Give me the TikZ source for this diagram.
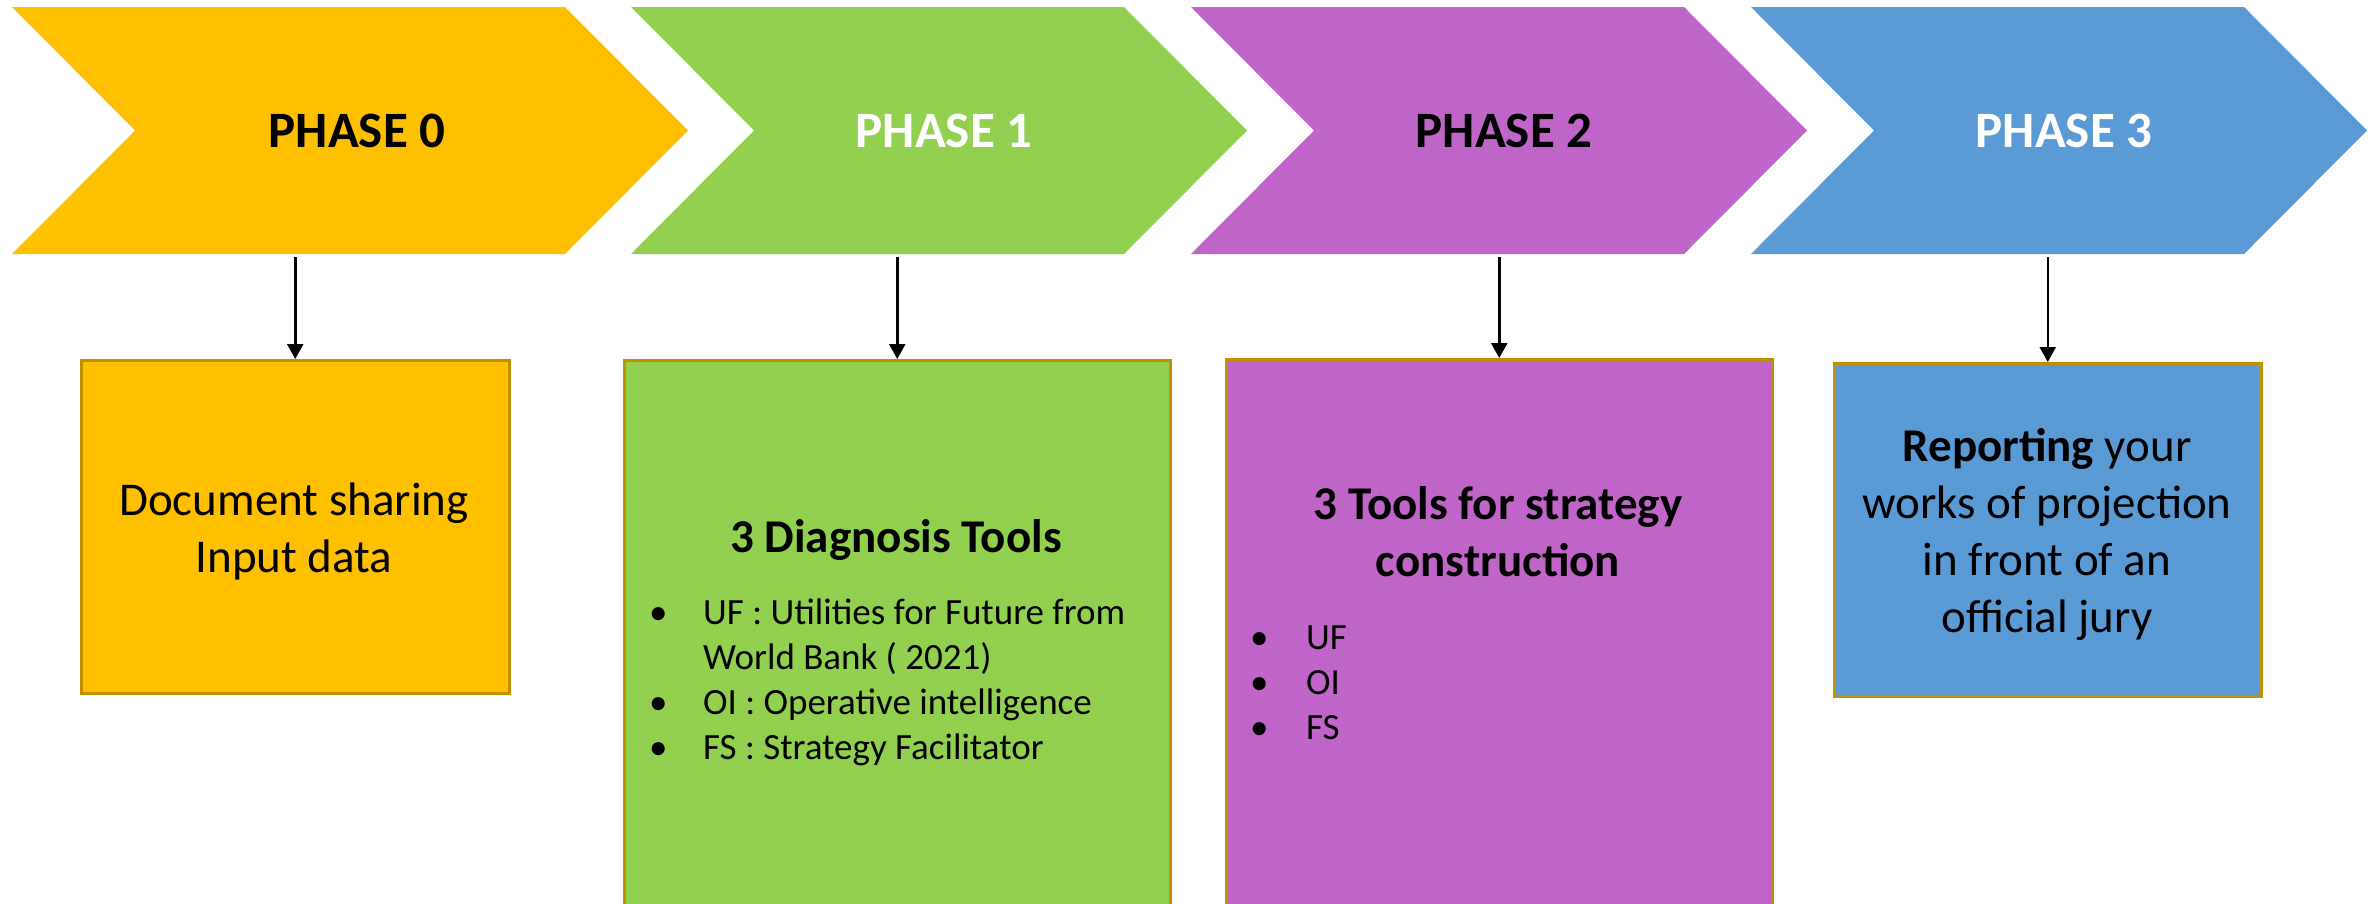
\documentclass[tikz,border=0pt]{standalone}
\usepackage{fontspec}
\setmainfont{Carlito}
\usetikzlibrary{arrows.meta}
\definecolor{phaseorange}{HTML}{FFC000}
\definecolor{phasegreen}{HTML}{92D050}
\definecolor{phasepurple}{HTML}{C066C9}
\definecolor{phaseblue}{HTML}{5B9BD5}
\definecolor{boxedge}{HTML}{BF9000}
\begin{document}
\begin{tikzpicture}[x=1pt,y=-1pt,
  phase/.style={font=\fontsize{51}{61}\selectfont\bfseries,inner sep=0pt},
  box/.style={draw=boxedge,line width=2.5pt,anchor=north west,inner sep=0pt},
  txt/.style={font=\fontsize{47}{57}\selectfont,inner sep=0pt,anchor=base},
  head/.style={font=\fontsize{47}{57}\selectfont\bfseries,inner sep=0pt,anchor=base},
  items/.style={font=\fontsize{37}{45}\selectfont,inner sep=0pt,anchor=base west},
  arr/.style={line width=2.5pt,-{Triangle[length=15pt,width=16pt]}}]
\def \yt{7};
\def \ym{130.5};
\def \yb{254};
\def \ya{257};
\useasboundingbox (0,0) rectangle (2377,903);
\fill[phaseorange] (12,\yt) -- (565,\yt) -- (688,\ym) -- (565,\yb) -- (12,\yb) -- (135,\ym) -- cycle;
\fill[phasegreen] (631,\yt) -- (1124,\yt) -- (1247,\ym) -- (1124,\yb) -- (631,\yb) -- (754,\ym) -- cycle;
\fill[phasepurple] (1191,\yt) -- (1684,\yt) -- (1807,\ym) -- (1684,\yb) -- (1191,\yb) -- (1314,\ym) -- cycle;
\fill[phaseblue] (1751,\yt) -- (2244,\yt) -- (2367,\ym) -- (2244,\yb) -- (1751,\yb) -- (1874,\ym) -- cycle;
\node[phase] (p0) at (357,\ym) {PHASE 0};
\node[phase,white] (p1) at (944,\ym) {PHASE 1};
\node[phase] (p2) at (1504,\ym) {PHASE 2};
\node[phase,white] (p3) at (2064,\ym) {PHASE 3};
\node[box,fill=phaseorange,minimum width=428pt,minimum height=333pt] (b0) at (80,359) {};
\node[box,fill=phasegreen,minimum width=546pt,minimum height=600pt] (b1) at (623,359) {};
\node[box,fill=phasepurple,minimum width=546pt,minimum height=600pt] (b2) at (1225,358) {};
\node[box,fill=phaseblue,minimum width=427pt,minimum height=333pt] (b3) at (1833,362) {};
\node[txt] (t0) at (294,515) {\begin{tabular}[t]{@{}c@{}}Document sharing\\Input data\end{tabular}};
\node[txt] (t3) at (2047,461) {\begin{tabular}[t]{@{}c@{}}\textbf{Reporting} your\\works of projection\\in front of an\\official jury\end{tabular}};
\node[head] (h1) at (896,552) {3 Diagnosis Tools};
\node[items] (l1) at (649,624) {\begin{tabular}[t]{@{}l@{}}
\makebox[54pt][l]{\textbullet}UF : Utilities for Future from\\
\hspace*{54pt}World Bank ( 2021)\\
\makebox[54pt][l]{\textbullet}OI : Operative intelligence\\
\makebox[54pt][l]{\textbullet}FS : Strategy Facilitator
\end{tabular}};
\node[head] (h2) at (1498,519) {\begin{tabular}[t]{@{}c@{}}3 Tools for strategy\\construction\end{tabular}};
\node[items] (l2) at (1250,649) {\begin{tabular}[t]{@{}l@{}}
\makebox[56pt][l]{\textbullet}UF\\
\makebox[56pt][l]{\textbullet}OI\\
\makebox[56pt][l]{\textbullet}FS
\end{tabular}};
\coordinate (a0) at (b0.north |- 0,\ya);
\coordinate (a1) at (b1.north |- 0,\ya);
\coordinate (a2) at (b2.north |- 0,\ya);
\coordinate (a3) at (b3.north |- 0,\ya);
\draw[arr] (a0) -- (b0.north);
\draw[arr] (a1) -- (b1.north);
\draw[arr] (a2) -- (b2.north);
\draw[arr] (a3) -- (b3.north);
\end{tikzpicture}
\end{document}
